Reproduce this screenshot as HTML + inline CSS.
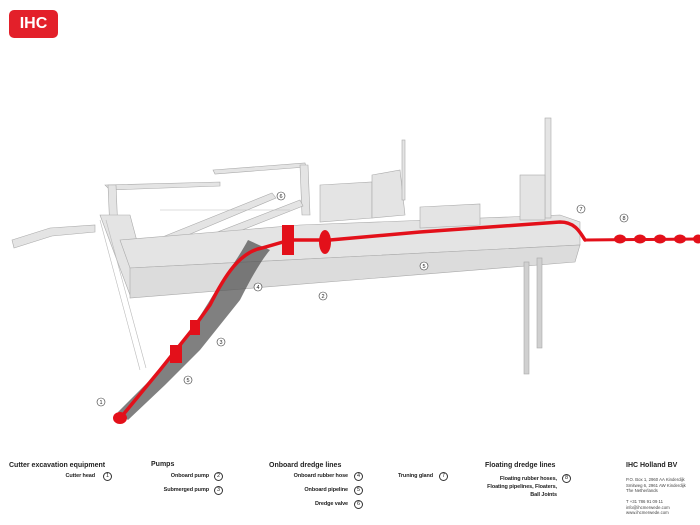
<!DOCTYPE html>
<html><head><meta charset="utf-8"><style>
body{margin:0;background:#fff;width:700px;height:525px;overflow:hidden;font-family:"Liberation Sans",sans-serif}
.t{position:absolute;font-size:5.5px;font-weight:bold;color:#222;white-space:nowrap;text-align:right;letter-spacing:-0.1px}
.h{position:absolute;font-size:7px;font-weight:bold;color:#222;white-space:nowrap}
.c{position:absolute;width:7px;height:7px;border:1px solid #333;border-radius:50%;font-size:5.5px;text-align:center;line-height:7px;color:#222}
.a{position:absolute;font-size:4.3px;color:#444;line-height:5.5px;white-space:pre}
</style></head><body>
<div style="position:absolute;left:9px;top:10px;width:49px;height:28px;background:#e3202a;border-radius:5px;color:#fff;font-weight:bold;font-size:16px;text-align:center;line-height:28px">IHC</div>
<svg width="700" height="455" style="position:absolute;left:0;top:0" xmlns="http://www.w3.org/2000/svg">
<g fill="#e4e4e4" stroke="#aaa" stroke-width="0.6">
<polygon points="12,240 50,228 95,225 95,232 52,236 14,248"/>
<polygon points="105,185 220,182 220,186 110,190"/>
<polygon points="108,185 116,185 118,232 110,232"/>
<polygon points="213,170 305,163 306,167 215,174"/>
<polygon points="300,165 308,165 310,215 302,215"/>
<polygon points="130,250 272,193 276,198 138,256"/>
<polygon points="140,262 300,200 303,206 146,268"/>
<polygon points="100,215 130,215 150,290 130,295"/>
<polygon points="120,240 300,225 560,215 580,222 580,245 130,268"/>
<polygon points="130,268 580,245 575,262 130,298" fill="#dcdcdc"/>
<polygon points="320,185 372,182 372,218 320,222"/>
<polygon points="372,175 400,170 405,215 372,218"/>
<polygon points="420,207 480,204 480,225 420,228"/>
<rect x="545" y="118" width="6" height="100"/>
<rect x="520" y="175" width="25" height="45"/>
<rect x="402" y="140" width="3" height="60"/>
<rect x="524" y="262" width="5" height="112" fill="#d0d0d0"/>
<rect x="537" y="258" width="5" height="90" fill="#d0d0d0"/>
</g>
<g stroke="#bbb" stroke-width="0.6">
<line x1="100" y1="220" x2="140" y2="370"/><line x1="106" y1="220" x2="146" y2="368"/>
<line x1="160" y1="210" x2="290" y2="210"/>
</g>
<path d="M248,240 C236,262 225,275 210,300 L185,340 L150,380 L118,412 L128,420 L165,385 L200,350 L240,300 C250,280 260,262 270,250 Z" fill="#555" opacity="0.75"/>
<g fill="none" stroke="#e3101a" stroke-linecap="round">
<path d="M122,416 L160,370 L192,330 L210,305 C225,275 240,252 262,248 L290,240 L330,240 L420,232 L560,222 C575,222 580,232 585,240" stroke-width="3.5"/>
<path d="M585,240 L700,239" stroke-width="3"/>
</g>
<g fill="#e3101a">
<ellipse cx="120" cy="418" rx="7" ry="6"/>
<rect x="282" y="225" width="12" height="30"/>
<ellipse cx="325" cy="242" rx="6" ry="12"/>
<ellipse cx="620" cy="239" rx="6" ry="4.5"/><ellipse cx="640" cy="239" rx="6" ry="4.5"/>
<ellipse cx="660" cy="239" rx="6" ry="4.5"/><ellipse cx="680" cy="239" rx="6" ry="4.5"/><ellipse cx="698" cy="239" rx="5" ry="4.5"/>
<rect x="170" y="345" width="12" height="18"/><rect x="190" y="320" width="10" height="15"/>
</g>
<g fill="#fff" stroke="#333" stroke-width="0.6">
<circle cx="101" cy="402" r="4"/><circle cx="323" cy="296" r="4"/><circle cx="221" cy="342" r="4"/>
<circle cx="258" cy="287" r="4"/><circle cx="188" cy="380" r="4"/><circle cx="424" cy="266" r="4"/>
<circle cx="281" cy="196" r="4"/><circle cx="581" cy="209" r="4"/><circle cx="624" cy="218" r="4"/>
</g>
<g font-size="5.5" font-family="Liberation Sans" text-anchor="middle" fill="#222">
<text x="101" y="404">1</text><text x="323" y="298">2</text><text x="221" y="344">3</text><text x="258" y="289">4</text>
<text x="188" y="382">5</text><text x="424" y="268">5</text><text x="281" y="198">6</text><text x="581" y="211">7</text><text x="624" y="220">8</text>
</g>
</svg>
<div class="h" style="left:9px;top:462px">Cutter excavation equipment</div>
<div class="t" style="right:605px;top:473px">Cutter head</div><div class="c" style="left:103px;top:472px">1</div>
<div class="h" style="left:151px;top:461px">Pumps</div>
<div class="t" style="right:491px;top:473px">Onboard pump</div><div class="c" style="left:214px;top:472px">2</div>
<div class="t" style="right:491px;top:487px">Submerged pump</div><div class="c" style="left:214px;top:486px">3</div>
<div class="h" style="left:269px;top:462px">Onboard dredge lines</div>
<div class="t" style="right:352px;top:473px">Onboard rubber hose</div><div class="c" style="left:354px;top:472px">4</div>
<div class="t" style="right:352px;top:487px">Onboard pipeline</div><div class="c" style="left:354px;top:486px">5</div>
<div class="t" style="right:352px;top:501px">Dredge valve</div><div class="c" style="left:354px;top:500px">6</div>
<div class="t" style="right:267px;top:473px">Truning gland</div><div class="c" style="left:439px;top:472px">7</div>
<div class="h" style="left:485px;top:462px">Floating dredge lines</div>
<div class="t" style="right:143px;top:475px;line-height:8px">Floating rubber hoses,<br>Floating pipelines, Floaters,<br>Ball Joints</div>
<div class="c" style="left:562px;top:474px">8</div>
<div class="h" style="left:626px;top:462px">IHC Holland BV</div>
<div class="a" style="left:626px;top:477px">P.O. Box 1, 2960 AA Kinderdijk
Smitweg 6, 2961 AW Kinderdijk
The Netherlands

T +31 786 91 09 11
info@ihcmerwede.com
www.ihcmerwede.com</div>
</body></html>
